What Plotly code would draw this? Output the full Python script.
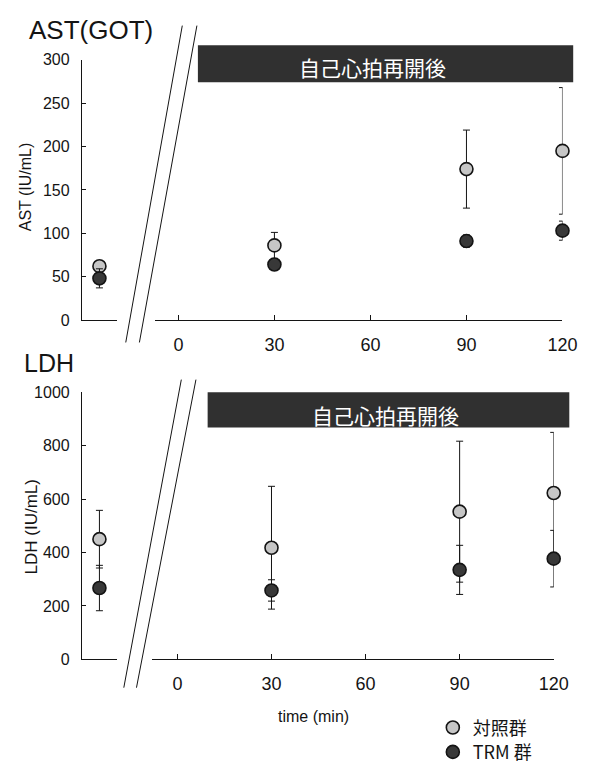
import plotly.graph_objects as go

W, H = 596, 771

# ---- data -------------------------------------------------------------
pre_label = ["pre"]
time_points = [30, 90, 120]
time_ticks = [0, 30, 60, 90, 120]
group_names = ["対照群", "TRM 群"]
banner_text = "自己心拍再開後"

ast_ctrl_pre = [62]
ast_ctrl_pre_sd = [3]
ast_trm_pre = [48]
ast_trm_pre_sd = [11]
ast_ctrl = [86, 174, 195]
ast_ctrl_sd = [15, 45, 73]
ast_trm = [64, 91, 103]
ast_trm_sd = [5, 7, 11]

ldh_ctrl_pre = [450]
ldh_ctrl_pre_sd = [108]
ldh_trm_pre = [267]
ldh_trm_pre_sd = [85]
ldh_ctrl = [418, 553, 623]
ldh_ctrl_sd = [230, 264, 227]
ldh_trm = [258, 335, 377]
ldh_trm_sd = [40, 92, 106]

# ---- styling ----------------------------------------------------------
FONT = "Liberation Sans, Arial, sans-serif"
CJK = "Noto Sans CJK JP, sans-serif"
INK = "#141414"
CTRL_FILL = "#c6c6c6"
TRM_FILL = "#383838"


def px(x):
    return x / W


def py(y):
    return 1 - y / H


def marker(fill):
    return dict(size=13, color=fill, line=dict(color=INK, width=1.6))


def err(sd):
    return dict(type="data", array=sd, visible=True, color=INK,
                thickness=1, width=3.5)


fig = go.Figure()


def add_group(xaxis, yaxis, x, y, sd, fill, name, legend=None):
    fig.add_trace(go.Scatter(
        x=x, y=y, xaxis=xaxis, yaxis=yaxis, mode="markers",
        marker=marker(fill), error_y=err(sd), cliponaxis=False,
        name=name, legendgroup=name, showlegend=legend is not None,
        legend=legend or "legend",
    ))


# AST panel
add_group("x", "y", pre_label, ast_ctrl_pre, ast_ctrl_pre_sd, CTRL_FILL, group_names[0], "legend")
add_group("x2", "y", time_points, ast_ctrl, ast_ctrl_sd, CTRL_FILL, group_names[0])
add_group("x", "y", pre_label, ast_trm_pre, ast_trm_pre_sd, TRM_FILL, group_names[1], "legend2")
add_group("x2", "y", time_points, ast_trm, ast_trm_sd, TRM_FILL, group_names[1])

# LDH panel
add_group("x3", "y2", pre_label, ldh_ctrl_pre, ldh_ctrl_pre_sd, CTRL_FILL, group_names[0])
add_group("x4", "y2", time_points, ldh_ctrl, ldh_ctrl_sd, CTRL_FILL, group_names[0])
add_group("x3", "y2", pre_label, ldh_trm_pre, ldh_trm_pre_sd, TRM_FILL, group_names[1])
add_group("x4", "y2", time_points, ldh_trm, ldh_trm_sd, TRM_FILL, group_names[1])


def time_range(left_px, zero_px, end_px):
    per_min = (end_px - zero_px) / time_ticks[-1]
    return [-(zero_px - left_px) / per_min, time_ticks[-1]]


common_x = dict(showline=True, linecolor=INK, linewidth=1, showgrid=False,
                zeroline=False, fixedrange=True)
pre_x = dict(common_x, type="category", range=[-0.5, 0.5], ticks="",
             showticklabels=False)
time_x = dict(common_x, tickvals=time_ticks, ticks="inside", ticklen=5,
              tickcolor=INK, tickfont=dict(family=FONT, size=18, color=INK),
              ticklabelstandoff=8)
common_y = dict(showline=True, linecolor=INK, linewidth=1, showgrid=False,
                zeroline=False, ticks="inside", ticklen=4, tickcolor=INK,
                tickfont=dict(family=FONT, size=16, color=INK),
                ticklabelstandoff=8, fixedrange=True)

legend_style = dict(xanchor="left", yanchor="middle",
                    font=dict(family=CJK, size=18, color=INK),
                    bgcolor="rgba(0,0,0,0)", itemwidth=30)

fig.update_layout(
    width=W, height=H,
    margin=dict(l=0, r=0, t=0, b=0),
    paper_bgcolor="white", plot_bgcolor="white",
    xaxis=dict(pre_x, domain=[px(84), px(120)], anchor="y"),
    xaxis2=dict(time_x, domain=[px(159), px(577)], anchor="y",
                range=time_range(159, 183, 577)),
    yaxis=dict(common_y, domain=[py(319), py(53)], anchor="x",
               range=[0, 300], dtick=50),
    xaxis3=dict(pre_x, domain=[px(84), px(120)], anchor="y2"),
    xaxis4=dict(time_x, domain=[px(156), px(568)], anchor="y2",
                range=time_range(156, 182, 568)),
    yaxis2=dict(common_y, domain=[py(666), py(393)], anchor="x3",
                range=[0, 1000], dtick=200),
    legend=dict(legend_style, x=px(444), y=py(736)),
    legend2=dict(legend_style, x=px(444), y=py(761)),
    showlegend=True,
)

shapes = []
# banners across the post-resuscitation period
for x0, x1, y0, y1 in [(203, 588, 38, 76), (213, 584, 393, 429)]:
    shapes.append(dict(type="rect", xref="paper", yref="paper",
                       x0=px(x0), x1=px(x1), y0=py(y1), y1=py(y0),
                       fillcolor="#303030", line=dict(width=0)))
# axis break marks
for (xa, ya, xb, yb) in [
    (129, 342, 187, 18), (143, 342, 202, 18),
    (127, 695, 186, 380), (140, 695, 201, 380),
]:
    shapes.append(dict(type="line", xref="paper", yref="paper",
                       x0=px(xa), y0=py(ya), x1=px(xb), y1=py(yb),
                       line=dict(color=INK, width=1)))
fig.update_layout(shapes=shapes)

ann = [
    dict(text="AST(GOT)", x=px(28), y=py(23), xanchor="left",
         font=dict(family=FONT, size=26, color=INK)),
    dict(text="LDH", x=px(23), y=py(363), xanchor="left",
         font=dict(family=FONT, size=25, color=INK)),
    dict(text="AST (IU/mL)", x=px(27), y=py(183), textangle=-90,
         font=dict(family=FONT, size=16, color=INK)),
    dict(text="LDH (IU/mL)", x=px(32), y=py(531), textangle=-90,
         font=dict(family=FONT, size=17, color=INK)),
    dict(text=banner_text, x=px(382), y=py(60),
         font=dict(family=CJK, size=21, color="white")),
    dict(text=banner_text, x=px(395), y=py(416),
         font=dict(family=CJK, size=21, color="white")),
    dict(text="time (min)", x=px(322), y=py(724),
         font=dict(family=FONT, size=16, color=INK)),
]
for a in ann:
    a.update(xref="paper", yref="paper", showarrow=False)
    a.setdefault("xanchor", "center")
    a.setdefault("yanchor", "middle")
fig.update_layout(annotations=ann)

fig.write_html("out.html")
